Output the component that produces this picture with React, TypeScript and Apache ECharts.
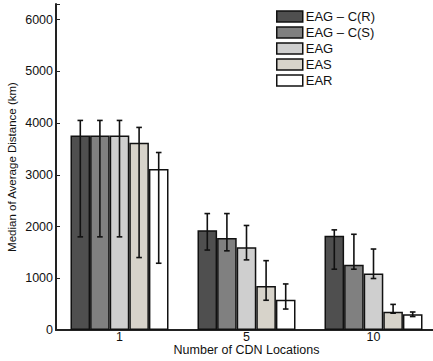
import React, { useEffect, useRef } from "react";
import * as echarts from "echarts";

const categories = ["1", "5", "10"];
const seriesNames = ["EAG \u2013 C(R)", "EAG \u2013 C(S)", "EAG", "EAS", "EAR"];
const colors = ["#4f4f4f", "#808080", "#cfcfcf", "#d7d3ca", "#ffffff"];

const eagCR = [3760, 1930, 1820];
const eagCS = [3760, 1780, 1260];
const eag = [3760, 1600, 1090];
const eas = [3620, 850, 355];
const ear = [3110, 585, 305];

const eagCRErr = [[1800, 4050], [1545, 2250], [1175, 1935]];
const eagCSErr = [[1800, 4050], [1530, 2250], [1175, 1850]];
const eagErr = [[1800, 4050], [1355, 2020], [995, 1565]];
const easErr = [[1400, 3915], [575, 1340], [325, 495]];
const earErr = [[1290, 3430], [405, 890], [260, 348]];

const values = [eagCR, eagCS, eag, eas, ear];
const errors = [eagCRErr, eagCSErr, eagErr, easErr, earErr];

const yTicks = [0, 1000, 2000, 3000, 4000, 5000, 6000];

const BAR_W = 19.6;
const FONT = "'Liberation Sans', Arial, Helvetica, sans-serif";

export default function App() {
  const ref = useRef<HTMLDivElement>(null);
  useEffect(() => {
    if (!ref.current) return;
    const chart = echarts.init(ref.current, null, { renderer: "svg" });
    const barSeries = seriesNames.map((name, i) => ({
      name,
      type: "bar",
      data: values[i],
      barWidth: BAR_W,
      barGap: "0%",
      itemStyle: { color: colors[i], borderColor: "#111", borderWidth: 1.5 },
      z: 2,
    }));
    const errSeries = seriesNames.map((name, i) => ({
      name: "err" + i,
      type: "custom",
      data: errors[i].map((e, j) => [j, e[0], e[1]]),
      encode: { x: 0, y: [1, 2] },
      z: 5,
      renderItem: (params: any, api: any) => {
        const x = api.value(0);
        const lo = api.coord([x, api.value(1)]);
        const hi = api.coord([x, api.value(2)]);
        const cx = lo[0] + (i - 2) * BAR_W;
        const cap = 2.8;
        const style = { stroke: "#111", lineWidth: 1.6 };
        return {
          type: "group",
          children: [
            { type: "line", shape: { x1: cx, y1: lo[1], x2: cx, y2: hi[1] }, style },
            { type: "line", shape: { x1: cx - cap, y1: lo[1], x2: cx + cap, y2: lo[1] }, style },
            { type: "line", shape: { x1: cx - cap, y1: hi[1], x2: cx + cap, y2: hi[1] }, style },
          ],
        };
      },
    }));
    chart.setOption({
      animation: false,
      backgroundColor: "#ffffff",
      textStyle: { fontFamily: FONT },
      legend: {
        data: seriesNames,
        orient: "vertical",
        left: 276,
        top: 10,
        padding: 0,
        itemWidth: 26,
        itemHeight: 11,
        itemGap: 3,
        icon: "rect",
        itemStyle: { borderColor: "#111", borderWidth: 1.5 },
        textStyle: { fontFamily: FONT, fontSize: 13, color: "#111", padding: [0, 0, 0, -2] },
        selectedMode: false,
      },
      grid: { left: 56, top: 4, width: 381, height: 326, outerBoundsMode: "none", containLabel: false },
      xAxis: {
        type: "category",
        data: categories,
        name: "Number of CDN Locations",
        nameLocation: "middle",
        nameGap: 13.5,
        nameMoveOverlap: false,
        nameTextStyle: { fontFamily: FONT, fontSize: 12.5, color: "#111", lineHeight: 12 },
        axisLine: { lineStyle: { color: "#222", width: 2 } },
        axisTick: { show: true, alignWithLabel: true, inside: true, length: 4, lineStyle: { color: "#222" } },
        axisLabel: { fontFamily: FONT, fontSize: 12.5, color: "#111", margin: 1.5, lineHeight: 11 },
      },
      yAxis: {
        type: "value",
        min: 0,
        max: 6300,
        interval: 1000,
        name: "Median of Average Distance (km)",
        nameLocation: "middle",
        nameGap: 38,
        nameMoveOverlap: false,
        nameTextStyle: { fontFamily: FONT, fontSize: 11.5, color: "#111" },
        axisLine: { show: true, lineStyle: { color: "#222", width: 2 } },
        axisTick: { show: true, inside: true, length: 4, lineStyle: { color: "#222" } },
        splitLine: { show: false },
        axisLabel: {
          fontFamily: FONT,
          fontSize: 12.5,
          color: "#111",
          margin: 3,
          formatter: (v: number) => (yTicks.indexOf(v) >= 0 ? String(v) : ""),
        },
      },
      series: [...barSeries, ...errSeries],
    });
    return () => chart.dispose();
  }, []);
  return (
    <div
      ref={ref}
      style={{ position: "fixed", left: 0, top: 0, width: 433, height: 361 }}
    />
  );
}
